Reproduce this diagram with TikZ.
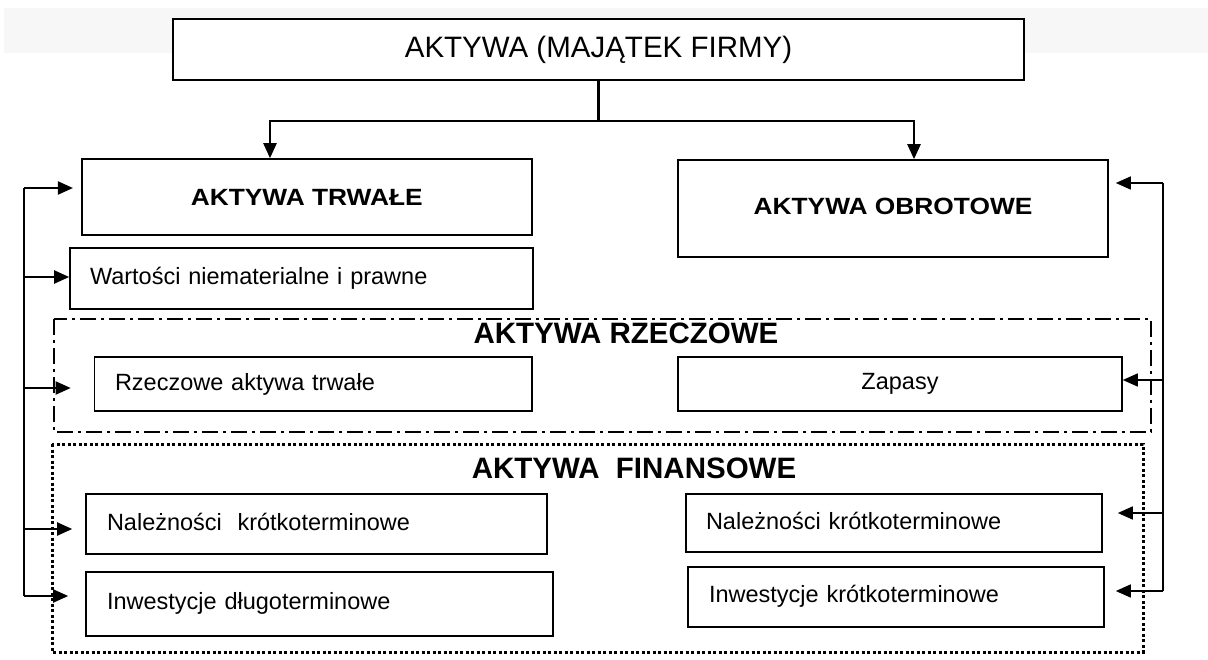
\documentclass[tikz,border=0pt]{standalone}
\usepackage{fontspec}
\setmainfont{Liberation Sans}
\newfontfamily\widesans{Liberation Sans}[FakeStretch=1.12]
\usetikzlibrary{arrows.meta,calc}
\begin{document}
\begin{tikzpicture}[x=1pt,y=-1pt,
  box/.style={draw,line width=1.6pt,inner sep=0pt,align=left,font=\fontsize{23.5}{28}\selectfont},
  bigbox/.style={draw,line width=1.6pt,inner sep=0pt,align=center,font=\widesans\bfseries\fontsize{23.5}{28}\selectfont},
  arr/.style={line width=2pt,-{Triangle[length=15pt,width=13pt]}},
  vline/.style={line width=2pt},
  grouptitle/.style={font=\bfseries\fontsize{29.5}{34}\selectfont,inner sep=0pt}]
\useasboundingbox (0,0) rectangle (1208,659);
\fill[black!3] (4,8) rectangle (1208,53);

% group frames
\draw[line width=2pt,dash pattern=on 16pt off 5pt on 3pt off 5pt] (54,319) rectangle (1151,432);
\draw[line width=3pt,dash pattern=on 3pt off 2.5pt] (52,444) rectangle (1143,652);

% top
\node[box,fill=white,align=center,minimum width=851pt,minimum height=61pt,font=\fontsize{29.5}{34}\selectfont] (top) at (598.5,49.5) {AKTYWA (MAJĄTEK FIRMY)};

% main boxes
\node[bigbox,minimum width=450pt,minimum height=76pt] (trw) at (306.75,197) {\raisebox{-6pt}{AKTYWA TRWAŁE}};
\node[bigbox,minimum width=430pt,minimum height=97pt] (obr) at (893,208.5) {\raisebox{5pt}{AKTYWA OBROTOWE}};

% group titles
\node[grouptitle] (tRz) at (626,333) {AKTYWA RZECZOWE};
\node[grouptitle] (tFin) at (634,468) {AKTYWA\ \ FINANSOWE};

% item boxes
\node[box,minimum width=463pt,minimum height=61pt,text width=423pt] (wart) at (301.5,278.5) {Wartości niematerialne i prawne};
\node[box,minimum width=437.5pt,minimum height=54pt,text width=396.5pt] (rz) at (313.25,384) {Rzeczowe aktywa trwałe};
\node[box,align=center,minimum width=444pt,minimum height=54pt] (zap) at (900,384) {Zapasy};
\node[box,minimum width=461pt,minimum height=60pt,text width=419pt] (nal1) at (316.5,524) {\raisebox{4pt}{Należności\ \ krótkoterminowe}};
\node[box,minimum width=467pt,minimum height=64pt,text width=425pt] (inw1) at (319.5,604) {\raisebox{7pt}{Inwestycje długoterminowe}};
\node[box,minimum width=416pt,minimum height=58pt,text width=376pt] (nal2) at (894,523) {\raisebox{4pt}{Należności krótkoterminowe}};
\node[box,minimum width=416pt,minimum height=60pt,text width=374pt] (inw2) at (896,597) {\raisebox{6pt}{Inwestycje krótkoterminowe}};

% top connectors
\coordinate (tL) at (270,121);
\coordinate (tR) at (914,121);
\draw[arr,line width=2.4pt] (top.south) |- (tL) -- (tL |- trw.north);
\draw[arr,line width=2.4pt] (top.south) |- (tR) -- (tR |- obr.north);

% left feedback
\coordinate (L1) at (24,188);
\coordinate (L2) at (24,277);
\coordinate (L3) at (24,388);
\coordinate (L4) at (24,529);
\coordinate (L5) at (24,596);
\draw[vline] (L1) -- (L5);
\draw[arr,shorten >=8pt] (L1) -- (L1 -| trw.west);
\draw[arr] (L2) -- (L2 -| wart.west);
\draw[arr,shorten >=23pt] (L3) -- (L3 -| rz.west);
\draw[arr,shorten >=13pt] (L4) -- (L4 -| nal1.west);
\draw[arr,shorten >=17pt] (L5) -- (L5 -| inw1.west);

% right feedback
\coordinate (R1) at (1163,183);
\coordinate (R2) at (1163,380);
\coordinate (R3) at (1163,513);
\coordinate (R4) at (1163,591);
\draw[line width=1.6pt] (R1) -- (R4);
\draw[arr,line width=1.6pt,shorten >=7pt] (R1) -- (R1 -| obr.east);
\draw[arr,line width=1.6pt] (R2) -- (R2 -| zap.east);
\draw[arr,line width=1.6pt,shorten >=15pt] (R3) -- (R3 -| nal2.east);
\draw[arr,line width=1.6pt,shorten >=11pt] (R4) -- (R4 -| inw2.east);
\end{tikzpicture}
\end{document}
